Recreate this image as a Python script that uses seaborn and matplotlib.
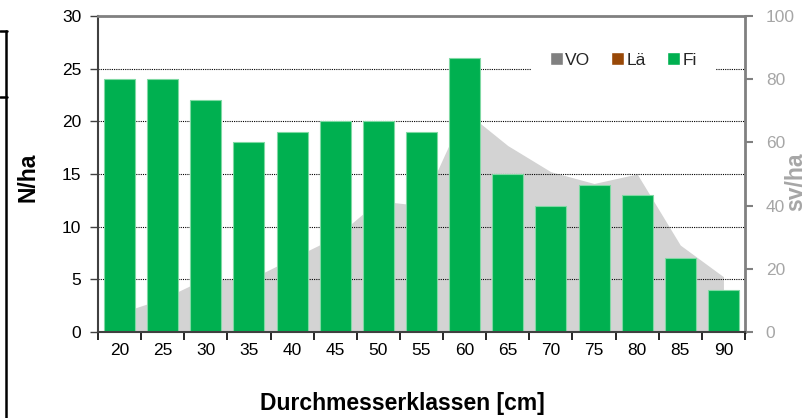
import numpy as np
import matplotlib
matplotlib.use("Agg")
import matplotlib.pyplot as plt
from matplotlib.patches import Patch
from matplotlib.lines import Line2D
import seaborn as sns

# data
klassen = ["20", "25", "30", "35", "40", "45", "50", "55", "60", "65", "70", "75", "80", "85", "90"]
fi_n_ha = [24, 24, 22, 18, 19, 20, 20, 19, 26, 15, 12, 14, 13, 7, 4]
vo_sv_ha = [6, 10.5, 17, 16.5, 23.3, 30, 41.5, 40, 70, 59, 50.7, 47, 50, 27.5, 17.5]
legend_labels = ["VO", "Lä", "Fi"]

GREEN = "#00B050"
AREA_GREY = "#D3D3D3"
VO_GREY = "#808080"
LAE_BROWN = "#984807"
AX_GREY = "#808080"
TICK_GREY = "#A6A6A6"

sns.set_theme(style="white")
plt.rcParams["font.family"] = ["Liberation Sans", "DejaVu Sans"]

fig = plt.figure(figsize=(8.09, 4.18), dpi=100)
ax = fig.add_axes([98 / 809, 1 - 332 / 418, 647 / 809, 316 / 418])
ax2 = ax.twinx()

# grey area (VO) on the right scale, bars on the left scale drawn on top
ax2.fill_between(np.arange(len(klassen)), vo_sv_ha, color=AREA_GREY, lw=0)
ax.set_zorder(ax2.get_zorder() + 1)
ax.patch.set_visible(False)

sns.barplot(x=klassen, y=fi_n_ha, color=GREEN, saturation=1, width=0.72,
            edgecolor="#7FD9A3", linewidth=0.8, ax=ax)

ax.set_xlim(-0.5, len(klassen) - 0.5)
ax.set_ylim(0, 30)
ax.set_yticks(np.arange(0, 31, 5))
ax2.set_ylim(0, 100)
ax2.set_yticks(np.arange(0, 101, 20))

ax.set_axisbelow(True)
ax.yaxis.grid(True, linestyle=(0, (1, 1)), color="black", linewidth=0.8)
ax.xaxis.grid(False)
ax2.grid(False)

# ticks between categories, Excel style
ax.set_xticks(np.arange(-0.5, len(klassen), 1), minor=True)
ax.tick_params(axis="x", which="major", length=0, pad=8, labelsize=12.5, labelcolor="black")
ax.tick_params(axis="x", which="minor", bottom=True, length=6, width=1.2, color="black")
ax.tick_params(axis="y", left=True, length=6, width=1, color="#404040", pad=6,
               labelsize=12.5, labelcolor="black")
ax2.tick_params(axis="y", right=True, length=6, width=1.5, color=AX_GREY, pad=9,
                labelsize=12.5, labelcolor=TICK_GREY)

for s in ["left", "bottom"]:
    ax.spines[s].set_color("#404040")
    ax.spines[s].set_linewidth(1.5)
ax.spines["top"].set_color(AX_GREY)
ax.spines["top"].set_linewidth(2)
ax.spines["right"].set_visible(False)
ax2.spines["right"].set_color(AX_GREY)
ax2.spines["right"].set_linewidth(2)
for s in ["left", "top", "bottom"]:
    ax2.spines[s].set_visible(False)

ax.set_xlabel("Durchmesserklassen [cm]", fontsize=16.5, fontweight="bold", color="black")
ax.xaxis.set_label_coords(0.47, -0.19)
ax.set_ylabel("N/ha", fontsize=16.5, fontweight="bold", color="black")
ax.yaxis.set_label_coords(-0.09, 0.49)
ax2.set_ylabel("sv/ha", fontsize=16.5, fontweight="bold", color=TICK_GREY, rotation=90)
ax2.yaxis.set_label_coords(1.06, 0.475)

handles = [Patch(facecolor=VO_GREY), Patch(facecolor=LAE_BROWN), Patch(facecolor=GREEN)]
leg = ax.legend(handles, legend_labels, ncol=3, loc="center",
                bbox_to_anchor=(0.812, 0.861), fontsize=12.5, frameon=True,
                facecolor="white", edgecolor="none", framealpha=1, fancybox=False,
                handlelength=0.75, handleheight=0.75, handletextpad=0.15,
                columnspacing=1.2, borderpad=1.1)
leg.set_zorder(5)

# partial frame of a neighbouring box on the far left
for xs, ys in [([5.5, 5.5], [30.7, 418]), ([0, 6.5], [30.7, 30.7]), ([0, 6.5], [96.7, 96.7])]:
    fig.add_artist(Line2D([x / 809 for x in xs], [1 - y / 418 for y in ys],
                          color="black", lw=1.8, transform=fig.transFigure))

fig.savefig("out.png", dpi=100, facecolor="white")
